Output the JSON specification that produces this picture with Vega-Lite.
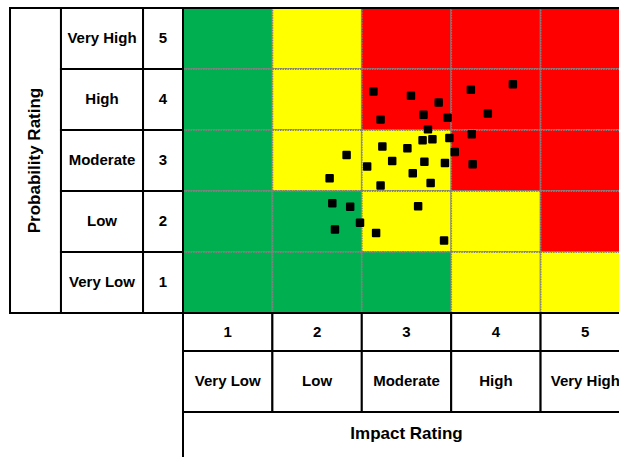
{
  "$schema": "https://vega.github.io/schema/vega-lite/v6.json",
  "width": 619,
  "height": 457,
  "autosize": {"type": "none"},
  "padding": 0,
  "background": "white",
  "config": {"view": {"stroke": null}, "text": {"font": "Liberation Sans", "fontWeight": "bold", "fontSize": 15, "baseline": "middle", "align": "center", "color": "black"}},
  "datasets": {
    "levels": [
      {"rating": 1, "label": "Very Low"},
      {"rating": 2, "label": "Low"},
      {"rating": 3, "label": "Moderate"},
      {"rating": 4, "label": "High"},
      {"rating": 5, "label": "Very High"}
    ],
    "cells": [
      {"impact": 1, "probability": 5, "risk": "Low"},
      {"impact": 2, "probability": 5, "risk": "Medium"},
      {"impact": 3, "probability": 5, "risk": "High"},
      {"impact": 4, "probability": 5, "risk": "High"},
      {"impact": 5, "probability": 5, "risk": "High"},
      {"impact": 1, "probability": 4, "risk": "Low"},
      {"impact": 2, "probability": 4, "risk": "Medium"},
      {"impact": 3, "probability": 4, "risk": "High"},
      {"impact": 4, "probability": 4, "risk": "High"},
      {"impact": 5, "probability": 4, "risk": "High"},
      {"impact": 1, "probability": 3, "risk": "Low"},
      {"impact": 2, "probability": 3, "risk": "Medium"},
      {"impact": 3, "probability": 3, "risk": "Medium"},
      {"impact": 4, "probability": 3, "risk": "High"},
      {"impact": 5, "probability": 3, "risk": "High"},
      {"impact": 1, "probability": 2, "risk": "Low"},
      {"impact": 2, "probability": 2, "risk": "Low"},
      {"impact": 3, "probability": 2, "risk": "Medium"},
      {"impact": 4, "probability": 2, "risk": "Medium"},
      {"impact": 5, "probability": 2, "risk": "High"},
      {"impact": 1, "probability": 1, "risk": "Low"},
      {"impact": 2, "probability": 1, "risk": "Low"},
      {"impact": 3, "probability": 1, "risk": "Low"},
      {"impact": 4, "probability": 1, "risk": "Medium"},
      {"impact": 5, "probability": 1, "risk": "Medium"}
    ],
    "risks": [
      {"impact": 2.63, "probability": 4.13},
      {"impact": 3.05, "probability": 4.06},
      {"impact": 3.36, "probability": 3.95},
      {"impact": 3.72, "probability": 4.16},
      {"impact": 4.19, "probability": 4.25},
      {"impact": 2.71, "probability": 3.67},
      {"impact": 3.19, "probability": 3.75},
      {"impact": 3.46, "probability": 3.70},
      {"impact": 3.91, "probability": 3.77},
      {"impact": 3.24, "probability": 3.51},
      {"impact": 3.18, "probability": 3.33},
      {"impact": 3.29, "probability": 3.35},
      {"impact": 3.48, "probability": 3.37},
      {"impact": 3.73, "probability": 3.43},
      {"impact": 2.73, "probability": 3.23},
      {"impact": 3.01, "probability": 3.20},
      {"impact": 2.33, "probability": 3.09},
      {"impact": 3.54, "probability": 3.14},
      {"impact": 2.84, "probability": 2.99},
      {"impact": 3.20, "probability": 2.98},
      {"impact": 3.43, "probability": 2.96},
      {"impact": 3.74, "probability": 2.94},
      {"impact": 2.56, "probability": 2.90},
      {"impact": 3.07, "probability": 2.79},
      {"impact": 2.14, "probability": 2.71},
      {"impact": 3.27, "probability": 2.63},
      {"impact": 2.71, "probability": 2.59},
      {"impact": 2.17, "probability": 2.30},
      {"impact": 2.37, "probability": 2.24},
      {"impact": 3.13, "probability": 2.25},
      {"impact": 2.48, "probability": 1.98},
      {"impact": 2.20, "probability": 1.87},
      {"impact": 2.66, "probability": 1.81},
      {"impact": 3.42, "probability": 1.69}
    ],
    "titles": [
      {"title": "Probability Rating", "axis": "y"},
      {"title": "Impact Rating", "axis": "x"}
    ]
  },
  "resolve": {"scale": {"x": "shared", "y": "shared"}},
  "layer": [
    {
      "data": {"name": "cells"},
      "transform": [
        {"calculate": "datum.impact - 0.5", "as": "x0"},
        {"calculate": "datum.impact + 0.5", "as": "x1"},
        {"calculate": "datum.probability - 0.5", "as": "y0"},
        {"calculate": "datum.probability + 0.5", "as": "y1"}
      ],
      "mark": {"type": "rect", "stroke": "#808080", "strokeWidth": 1.8, "strokeDash": [1.5, 1], "clip": true},
      "encoding": {
        "x": {"field": "x0", "type": "quantitative", "scale": {"domain": [-1.547, 5.377], "nice": false, "zero": false}, "axis": null},
        "x2": {"field": "x1"},
        "y": {"field": "y0", "type": "quantitative", "scale": {"domain": [-1.861, 5.631], "nice": false, "zero": false}, "axis": null},
        "y2": {"field": "y1"},
        "fill": {"field": "risk", "type": "nominal", "scale": {"domain": ["Low", "Medium", "High"], "range": ["#00B050", "#FFFF00", "#FF0000"]}, "legend": null}
      }
    },
    {
      "data": {"name": "titles"},
      "transform": [{"filter": "datum.axis == 'y'"}],
      "mark": {"type": "rect", "fill": "white", "stroke": "black", "strokeWidth": 2},
      "encoding": {
        "x": {"datum": -1.435, "type": "quantitative"},
        "x2": {"datum": -0.865},
        "y": {"datum": 0.5, "type": "quantitative"},
        "y2": {"datum": 5.5}
      }
    },
    {
      "data": {"name": "levels"},
      "transform": [
        {"calculate": "datum.rating - 0.5", "as": "lo"},
        {"calculate": "datum.rating + 0.5", "as": "hi"}
      ],
      "mark": {"type": "rect", "fill": "white", "stroke": "black", "strokeWidth": 2},
      "encoding": {
        "x": {"datum": -0.865, "type": "quantitative"},
        "x2": {"datum": 0.053},
        "y": {"field": "lo", "type": "quantitative"},
        "y2": {"field": "hi"}
      }
    },
    {
      "data": {"name": "levels"},
      "transform": [
        {"calculate": "datum.rating - 0.5", "as": "lo"},
        {"calculate": "datum.rating + 0.5", "as": "hi"}
      ],
      "mark": {"type": "rect", "fill": "white", "stroke": "black", "strokeWidth": 2},
      "encoding": {
        "x": {"datum": 0.053, "type": "quantitative"},
        "x2": {"datum": 0.5},
        "y": {"field": "lo", "type": "quantitative"},
        "y2": {"field": "hi"}
      }
    },
    {
      "data": {"name": "levels"},
      "transform": [
        {"calculate": "datum.rating - 0.5", "as": "lo"},
        {"calculate": "datum.rating + 0.5", "as": "hi"}
      ],
      "mark": {"type": "rect", "fill": "white", "stroke": "black", "strokeWidth": 2, "clip": true},
      "encoding": {
        "x": {"field": "lo", "type": "quantitative"},
        "x2": {"field": "hi"},
        "y": {"datum": -0.123, "type": "quantitative"},
        "y2": {"datum": 0.5}
      }
    },
    {
      "data": {"name": "levels"},
      "transform": [
        {"calculate": "datum.rating - 0.5", "as": "lo"},
        {"calculate": "datum.rating + 0.5", "as": "hi"}
      ],
      "mark": {"type": "rect", "fill": "white", "stroke": "black", "strokeWidth": 2, "clip": true},
      "encoding": {
        "x": {"field": "lo", "type": "quantitative"},
        "x2": {"field": "hi"},
        "y": {"datum": -1.123, "type": "quantitative"},
        "y2": {"datum": -0.123}
      }
    },
    {
      "data": {"name": "titles"},
      "transform": [{"filter": "datum.axis == 'x'"}],
      "mark": {"type": "rect", "fill": "white", "stroke": "black", "strokeWidth": 2, "clip": true},
      "encoding": {
        "x": {"datum": 0.5, "type": "quantitative"},
        "x2": {"datum": 5.5},
        "y": {"datum": -2.0, "type": "quantitative"},
        "y2": {"datum": -1.123}
      }
    },
    {
      "data": {"name": "titles"},
      "transform": [{"filter": "datum.axis == 'x'"}],
      "mark": {"type": "rule", "stroke": "black", "strokeWidth": 2, "clip": true},
      "encoding": {
        "x": {"datum": 0.5, "type": "quantitative"},
        "x2": {"datum": 5.5},
        "y": {"datum": 5.5, "type": "quantitative"}
      }
    },
    {
      "data": {"name": "risks"},
      "mark": {"type": "point", "shape": "square", "filled": true, "fill": "black", "stroke": "black", "strokeWidth": 2, "strokeJoin": "round", "size": 42, "opacity": 1},
      "encoding": {
        "x": {"field": "impact", "type": "quantitative"},
        "y": {"field": "probability", "type": "quantitative"}
      }
    },
    {
      "data": {"name": "levels"},
      "mark": {"type": "text"},
      "encoding": {
        "x": {"datum": -0.406, "type": "quantitative"},
        "y": {"field": "rating", "type": "quantitative"},
        "text": {"field": "label"}
      }
    },
    {
      "data": {"name": "levels"},
      "mark": {"type": "text"},
      "encoding": {
        "x": {"datum": 0.2765, "type": "quantitative"},
        "y": {"field": "rating", "type": "quantitative"},
        "text": {"field": "rating"}
      }
    },
    {
      "data": {"name": "levels"},
      "mark": {"type": "text", "clip": true},
      "encoding": {
        "x": {"field": "rating", "type": "quantitative"},
        "y": {"datum": 0.1885, "type": "quantitative"},
        "text": {"field": "rating"}
      }
    },
    {
      "data": {"name": "levels"},
      "mark": {"type": "text", "clip": true},
      "encoding": {
        "x": {"field": "rating", "type": "quantitative"},
        "y": {"datum": -0.623, "type": "quantitative"},
        "text": {"field": "label"}
      }
    },
    {
      "data": {"name": "titles"},
      "transform": [{"filter": "datum.axis == 'y'"}],
      "mark": {"type": "text", "angle": 270, "fontSize": 17},
      "encoding": {
        "x": {"datum": -1.15, "type": "quantitative"},
        "y": {"datum": 3.0, "type": "quantitative"},
        "text": {"field": "title"}
      }
    },
    {
      "data": {"name": "titles"},
      "transform": [{"filter": "datum.axis == 'x'"}],
      "mark": {"type": "text", "fontSize": 17},
      "encoding": {
        "x": {"datum": 3.0, "type": "quantitative"},
        "y": {"datum": -1.492, "type": "quantitative"},
        "text": {"field": "title"}
      }
    }
  ]
}
